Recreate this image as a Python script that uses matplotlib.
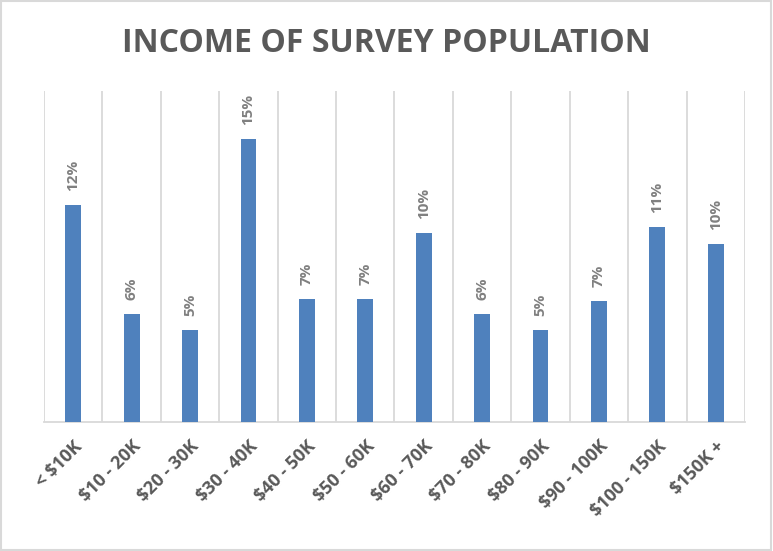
import matplotlib
matplotlib.use("Agg")
import matplotlib.pyplot as plt
from matplotlib.patches import Rectangle
import matplotlib.transforms as mtransforms

categories = ["< $10K", "$10 - 20K", "$20 - 30K", "$30 - 40K", "$40 - 50K",
              "$50 - 60K", "$60 - 70K", "$70 - 80K", "$80 - 90K", "$90 - 100K",
              "$100 - 150K", "$150K +"]
values = [11.8, 5.9, 5.0, 15.4, 6.7, 6.7, 10.3, 5.9, 5.0, 6.6, 10.6, 9.7]
title = "INCOME OF SURVEY POPULATION"

plt.rcParams['font.family'] = ['Open Sans', 'DejaVu Sans']

fig = plt.figure(figsize=(7.73, 5.51), dpi=100)
W, H = 773, 551
ax = fig.add_axes([44 / W, (H - 422) / H, (745 - 44) / W, (422 - 91) / H])

x = list(range(len(categories)))
bars = ax.bar(x, values, width=0.27, color="#4F81BD", zorder=3)

ax.set_xlim(-0.5, len(categories) - 0.5)
ax.set_ylim(0, 18)

for xi, v in zip(x, values):
    ax.annotate(f"{round(v):.0f}%", (xi, v), xytext=(0, 10), textcoords="offset points",
                rotation=90, ha="center", va="bottom", fontsize=11,
                color="#808080", fontweight="bold")

ax.set_xticks(x)
offset = mtransforms.ScaledTranslation(7 / 100, 0, fig.dpi_scale_trans)
ax.set_xticklabels(categories, rotation=45, ha="right", rotation_mode="anchor",
                   fontsize=13, fontweight="bold", color="#595959")
for lab in ax.get_xticklabels():
    lab.set_transform(lab.get_transform() + offset)
ax.tick_params(axis="x", length=0, pad=11)
ax.set_xticks([i - 0.5 for i in range(len(categories) + 1)], minor=True)
ax.tick_params(axis="x", which="minor", length=0)
ax.grid(True, axis="x", which="minor", color="#D9D9D9", linewidth=1.3, zorder=0)
ax.grid(False, axis="x", which="major")
ax.set_yticks([])
for s in ["top", "right", "left"]:
    ax.spines[s].set_visible(False)
ax.spines["bottom"].set_color("#D9D9D9")
ax.spines["bottom"].set_linewidth(1.3)

fig.text(0.5, 1 - 44 / H, title, ha="center", va="center", fontsize=23,
         fontweight="bold", color="#595959")

fig.patches.append(Rectangle((0.001, 0.001), 0.997, 0.997, transform=fig.transFigure,
                             fill=False, edgecolor="#D9D9D9", linewidth=1.5))

fig.savefig("out.png", dpi=100)
